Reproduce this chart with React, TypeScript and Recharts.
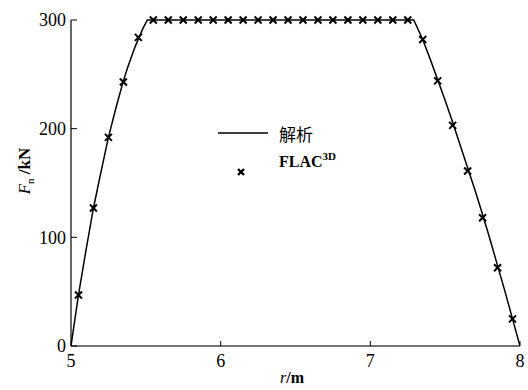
import { ComposedChart, Line, XAxis, YAxis } from "recharts";

// analytic solution (solid line)
const analyticR = [
  5, 5.05, 5.1, 5.15, 5.2, 5.25, 5.3, 5.35, 5.38, 5.43, 5.48, 5.51, 7.29, 7.35,
  7.4, 7.45, 7.5, 7.55, 7.6, 7.65, 7.7, 7.75, 7.8, 7.85, 7.9, 7.95, 8,
];
const analyticF = [
  0, 47, 88, 127, 160, 192, 219, 244, 257, 276, 292, 300, 300, 282, 264, 245,
  226, 206, 185, 164, 143, 121, 98, 74, 50, 25, 0,
];

// FLAC3D results (crosses)
const flacR = [
  5.05, 5.15, 5.25, 5.35, 5.45, 5.55, 5.65, 5.75, 5.85, 5.95, 6.05, 6.15, 6.25,
  6.35, 6.45, 6.55, 6.65, 6.75, 6.85, 6.95, 7.05, 7.15, 7.25, 7.35, 7.45, 7.55,
  7.65, 7.75, 7.85, 7.95,
];
const flacF = [
  47, 127, 192, 243, 284, 300, 300, 300, 300, 300, 300, 300, 300, 300, 300, 300,
  300, 300, 300, 300, 300, 300, 300, 282, 244, 203, 161, 118, 72, 25,
];

const xTicks = [5, 6, 7, 8];
const yTicks = [0, 100, 200, 300];

const analytic = analyticR.map((r, i) => ({ r, F: analyticF[i] }));
const flac = flacR.map((r, i) => ({ r, F: flacF[i] }));

const FONT = '"Liberation Serif", "Times New Roman", serif';
const CJK = '"Noto Sans CJK SC", "Liberation Serif", serif';

const Cross = (props: any) => {
  const { cx, cy, index } = props;
  if (cx == null || cy == null) return null;
  const s = 3.5;
  return (
    <path
      key={`x-${index}`}
      d={`M${cx - s},${cy - s}L${cx + s},${cy + s}M${cx - s},${cy + s}L${cx + s},${cy - s}`}
      stroke="#000"
      strokeWidth={2}
      fill="none"
    />
  );
};

// legend box sits inside the plot, left of centre
const LegendBox = () => (
  <svg
    width={140}
    height={60}
    style={{ position: "absolute", left: 218, top: 120 }}
  >
    <line x1={0} y1={13} x2={50} y2={13} stroke="#000" strokeWidth={1.5} />
    <path d="M20,49L26,55M20,55L26,49" stroke="#000" strokeWidth={2.4} />
    <text x={61} y={21} fontFamily={CJK} fontSize={17} fill="#000">
      解析
    </text>
    <text x={61} y={47} fontFamily={FONT} fontSize={16} fontWeight="bold" fill="#000">
      FLAC
      <tspan fontSize={11} dy={-7}>
        3D
      </tspan>
    </text>
  </svg>
);

const YLabel = () => (
  <text
    transform="translate(30,171) rotate(-90)"
    textAnchor="middle"
    fontFamily={FONT}
    fontSize={17}
    fill="#000"
  >
    <tspan fontStyle="italic">F</tspan>
    <tspan fontSize={11} dy={4}>
      n
    </tspan>
    <tspan dy={-4} fontWeight="bold">
      {" /kN"}
    </tspan>
  </text>
);

const XLabel = () => (
  <text x={292} y={383} textAnchor="middle" fontFamily={FONT} fontSize={16} fill="#000">
    <tspan fontStyle="italic">r</tspan>
    <tspan fontWeight="bold">/m</tspan>
  </text>
);

const App = () => {
  return (
    <div
      style={{
        position: "absolute",
        left: 0,
        top: 0,
        width: 528,
        height: 390,
        background: "#fff",
      }}
    >
      <ComposedChart
        width={528}
        height={390}
        margin={{ top: 20, right: 8, bottom: 0, left: 0 }}
      >
        <XAxis
          dataKey="r"
          type="number"
          domain={[5, 8]}
          ticks={xTicks}
          allowDataOverflow
          height={44}
          axisLine={{ stroke: "#444", strokeWidth: 1.5 }}
          tickLine={{ stroke: "#000" }}
          tickSize={-5}
          tickMargin={13}
          tick={{ fill: "#000", fontFamily: FONT, fontSize: 18 }}
          label={{ content: () => <XLabel /> }}
        />
        <YAxis
          type="number"
          domain={[0, 300]}
          ticks={yTicks}
          width={71}
          axisLine={{ stroke: "#000", strokeWidth: 1.2 }}
          tickLine={{ stroke: "#000" }}
          tickSize={-6}
          tickMargin={11}
          tick={{ fill: "#000", fontFamily: FONT, fontSize: 18 }}
          label={{ content: () => <YLabel /> }}
        />
        <Line
          data={analytic}
          dataKey="F"
          stroke="#000"
          strokeWidth={1.5}
          dot={false}
          activeDot={false}
          isAnimationActive={false}
        />
        <Line
          data={flac}
          dataKey="F"
          stroke="none"
          dot={<Cross />}
          activeDot={false}
          isAnimationActive={false}
        />
      </ComposedChart>
      <LegendBox />
    </div>
  );
};

export default App;
